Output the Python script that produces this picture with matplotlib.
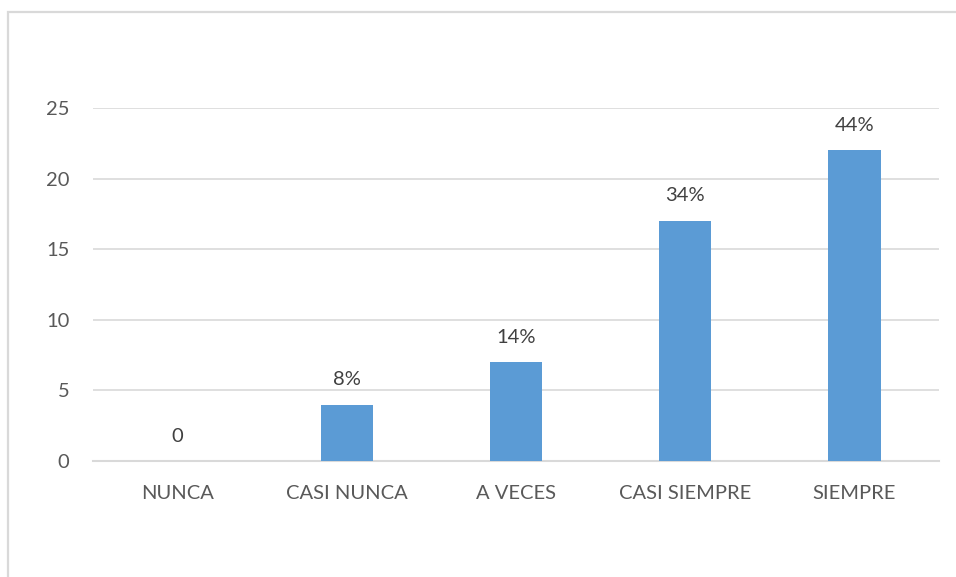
import matplotlib.pyplot as plt
from matplotlib.patches import Rectangle

categorias = ["NUNCA", "CASI NUNCA", "A VECES", "CASI SIEMPRE", "SIEMPRE"]
valores = [0, 4, 7, 17, 22]
etiquetas = ["0", "8%", "14%", "34%", "44%"]

plt.rcParams['font.family'] = ['Lato', 'DejaVu Sans']

fig = plt.figure(figsize=(9.56, 5.77), dpi=100)
ax = fig.add_axes([0.0973, 0.201, 0.8849, 0.6118])

x = range(len(categorias))
bars = ax.bar(x, valores, width=0.31, color="#5B9BD5", zorder=3)

for b, lab in zip(bars, etiquetas):
    ax.annotate(lab, (b.get_x() + b.get_width() / 2, b.get_height()),
                xytext=(0, 18), textcoords="offset points",
                ha="center", va="center", fontsize=14.5, color="#404040")

ax.set_xlim(-0.5, 4.5)
ax.set_ylim(0, 25)
ax.set_yticks([0, 5, 10, 15, 20, 25])
ax.set_xticks(list(x))
ax.set_xticklabels(categorias)
ax.yaxis.grid(True, color="#D9D9D9", lw=1.2, zorder=0)
for s in ["top", "right", "left"]:
    ax.spines[s].set_visible(False)
ax.spines["bottom"].set_color("#D9D9D9")
ax.spines["bottom"].set_linewidth(1.5)
ax.tick_params(axis="both", length=0, labelsize=14.5, labelcolor="#595959")
ax.tick_params(axis="x", pad=17)
ax.tick_params(axis="y", pad=17)

# borde del gráfico
fig.add_artist(Rectangle((8 / 956, -0.1), 1.2, 1.1 - 12 / 577,
                         transform=fig.transFigure, fill=False,
                         edgecolor="#D9D9D9", lw=1.6))

fig.savefig("out.png", dpi=100)
